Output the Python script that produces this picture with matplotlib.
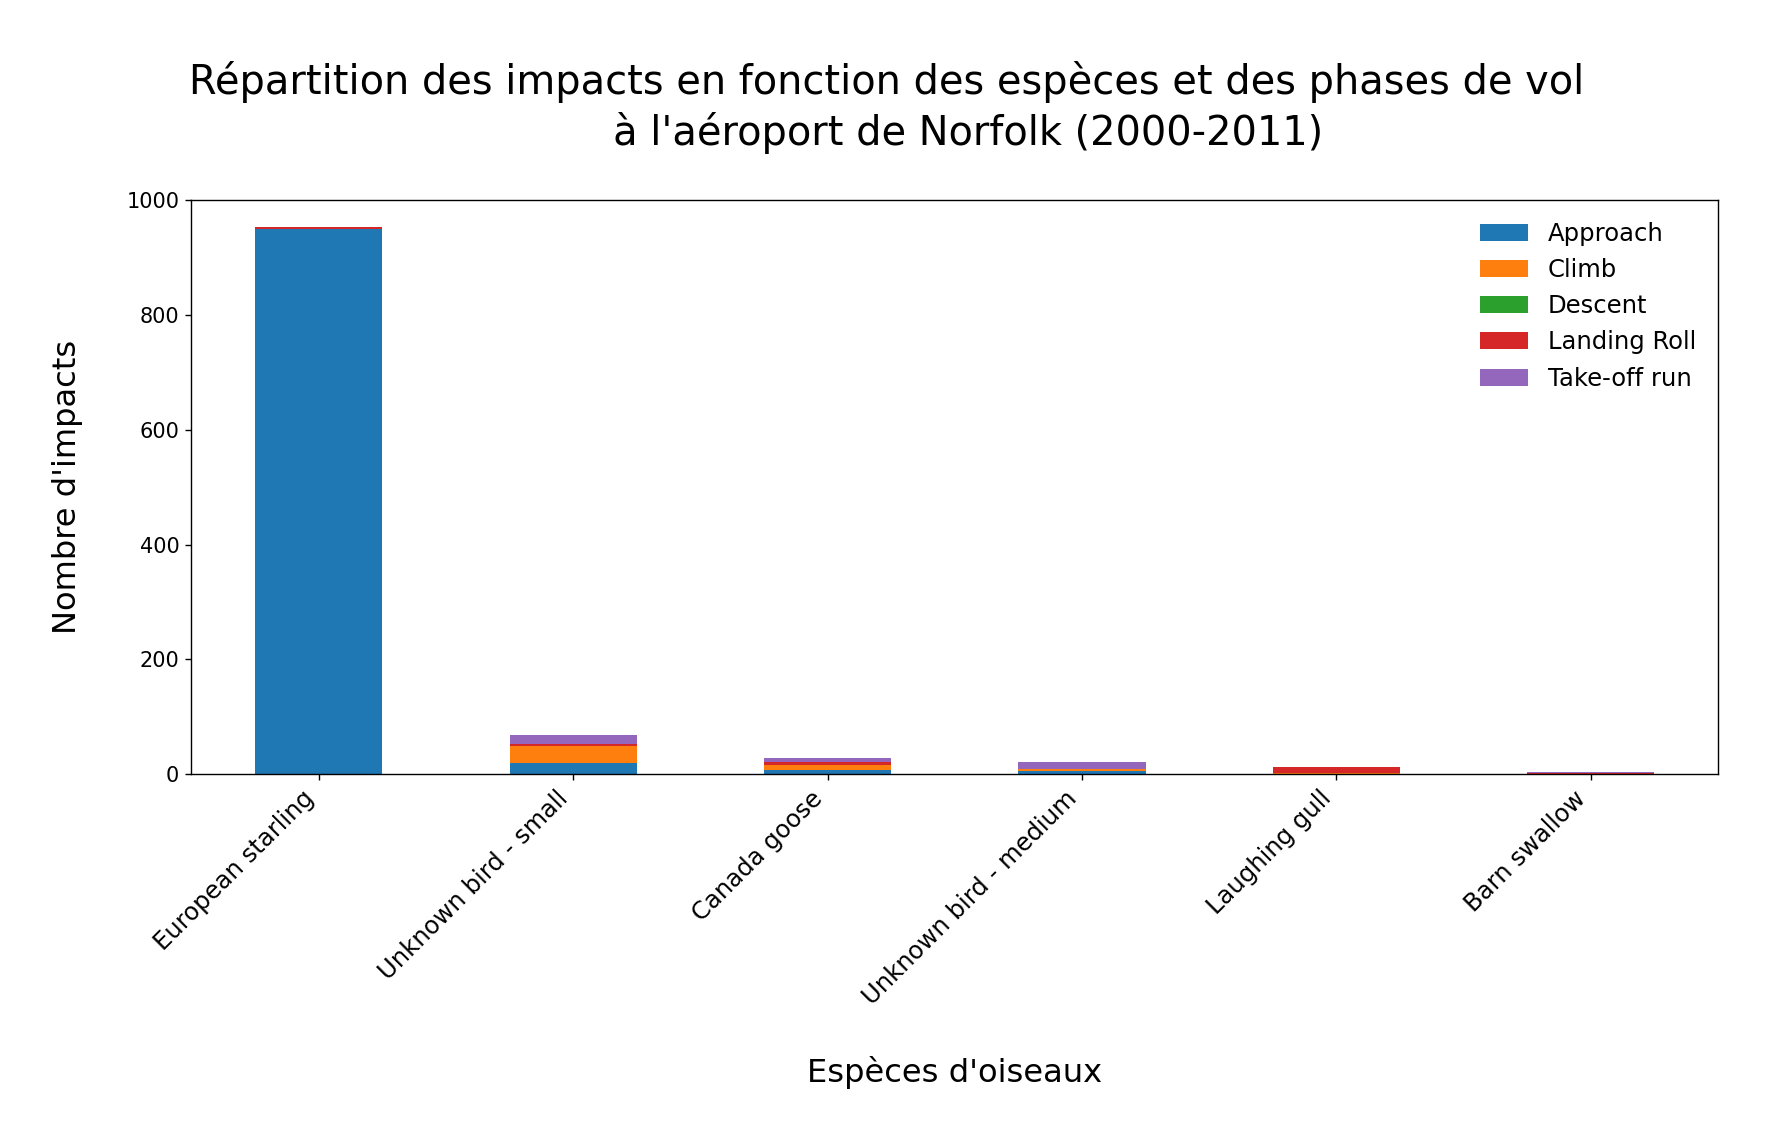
import matplotlib
matplotlib.use("Agg")
import matplotlib.pyplot as plt
import numpy as np

species = ["European starling", "Unknown bird - small", "Canada goose",
           "Unknown bird - medium", "Laughing gull", "Barn swallow"]
phases = ["Approach", "Climb", "Descent", "Landing Roll", "Take-off run"]
approach = [950, 20, 8, 5, 1, 0]
climb = [0, 29, 9, 4, 2, 0]
descent = [0, 0, 0, 0, 0, 0]
landing_roll = [3, 3, 5, 0, 9, 3]
takeoff_run = [0, 17, 7, 13, 1, 1]
values = [approach, climb, descent, landing_roll, takeoff_run]
colors = ["#1f77b4", "#ff7f0e", "#2ca02c", "#d62728", "#9467bd"]

fig = plt.figure(figsize=(14.184, 9.096), dpi=125)
ax = fig.add_axes([0.108, 0.319, 0.861, 0.505])
x = np.arange(len(species))
bottom = np.zeros(len(species))
for name, vals, c in zip(phases, values, colors):
    ax.bar(x, vals, 0.5, bottom=bottom, color=c, label=name)
    bottom += np.array(vals)

ax.set_xlim(-0.5, len(species) - 0.5)
ax.set_ylim(0, 1000)
ax.set_xticks(x)
ax.set_xticklabels(species, rotation=45, ha="right", fontsize=14)
ax.tick_params(axis="y", labelsize=12)
ax.set_xlabel("Espèces d'oiseaux", fontsize=18.5, labelpad=27)
ax.set_ylabel("Nombre d'impacts", fontsize=18.5, labelpad=25)
ax.legend(frameon=False, fontsize=14, loc="upper right")
fig.suptitle("Répartition des impacts en fonction des espèces et des phases de vol\n"
             "             à l'aéroport de Norfolk (2000-2011)",
             fontsize=23, y=0.946, linespacing=1.27)
fig.savefig("out.png", dpi=125)
